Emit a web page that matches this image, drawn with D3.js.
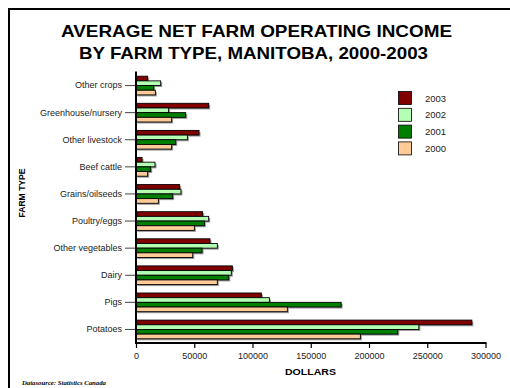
<!DOCTYPE html>
<html><head><meta charset="utf-8">
<script src="https://cdn.jsdelivr.net/npm/d3@7"></script>
<style>body{margin:0;background:#fff}svg{display:block}</style>
</head><body>
<svg id="c" width="510" height="388"></svg>
<script>
const categories = ["Other crops","Greenhouse/nursery","Other livestock","Beef cattle","Grains/oilseeds","Poultry/eggs","Other vegetables","Dairy","Pigs","Potatoes"];
const series = ["2003","2002","2001","2000"];
const v2003 = [10000,62400,54100,5200,37500,57200,63500,82700,107600,288300];
const v2002 = [21200,28000,44100,16300,38600,62400,69800,81800,114500,242800];
const v2001 = [15200,42700,34100,12600,31500,58700,56700,79600,176100,224700];
const v2000 = [16600,30600,30600,10000,19200,50100,48700,69800,129900,192600];
const colors = ["#800000","#b3ffb3","#008000","#ffcc99"];
const xTicks = [0,50000,100000,150000,200000,250000,300000];
const values = [v2003,v2002,v2001,v2000];

const svg = d3.select("#c");
// frame
svg.append("path").attr("d","M9,388 V9 H510").attr("fill","none").attr("stroke","#000").attr("stroke-width",2);

const tf = {family:"Liberation Sans, Arial, sans-serif"};
svg.append("text").attr("x",256.5).attr("y",37).attr("text-anchor","middle").attr("font-family",tf.family)
  .attr("font-weight","bold").attr("font-size",16.5).attr("textLength",391).attr("lengthAdjust","spacingAndGlyphs")
  .text("AVERAGE NET FARM OPERATING INCOME");
svg.append("text").attr("x",253.5).attr("y",59).attr("text-anchor","middle").attr("font-family",tf.family)
  .attr("font-weight","bold").attr("font-size",16.5).attr("textLength",349).attr("lengthAdjust","spacingAndGlyphs")
  .text("BY FARM TYPE, MANITOBA, 2000-2003");

const x = d3.scaleLinear().domain([0,300000]).range([136,485.5]);
const y = d3.scaleBand().domain(categories).range([72,343]).paddingInner(0.31).paddingOuter(0.155);
const yi = d3.scaleBand().domain(series).range([0,y.bandwidth()]);

const g = svg.append("g");
series.forEach((s,si)=>{
  const rows = categories.map((c,i)=>({c,v:values[si][i]}));
  g.selectAll(null).data(rows).enter().append("rect")
    .attr("x",x(0)+1.5).attr("y",d=>y(d.c)+yi(s)+1.5)
    .attr("width",d=>x(d.v)-x(0)).attr("height",yi.bandwidth())
    .attr("fill","#999");
});
series.forEach((s,si)=>{
  const rows = categories.map((c,i)=>({c,v:values[si][i]}));
  g.selectAll(null).data(rows).enter().append("rect")
    .attr("x",x(0)).attr("y",d=>y(d.c)+yi(s))
    .attr("width",d=>x(d.v)-x(0)).attr("height",yi.bandwidth())
    .attr("fill",colors[si]).attr("stroke","#000").attr("stroke-width",0.9);
});

// y axis
const ya = svg.append("g").attr("transform","translate(136,0)")
  .call(d3.axisLeft(y).tickSize(11).tickPadding(3));
ya.select(".domain").remove();
ya.selectAll(".tick line").attr("stroke","#444");
ya.selectAll("text").attr("font-family",tf.family).attr("font-size",9).attr("fill","#222");
svg.append("line").attr("x1",136).attr("x2",136).attr("y1",71.5).attr("y2",344).attr("stroke","#000").attr("stroke-width",2);

// x axis
const xa = svg.append("g").attr("transform","translate(0,343)")
  .call(d3.axisBottom(x).tickValues(xTicks).tickFormat(d3.format("d")).tickSize(5).tickPadding(5));
xa.select(".domain").remove();
xa.selectAll(".tick line").attr("stroke","#000").attr("stroke-width",1.2);
xa.selectAll("text").attr("font-family",tf.family).attr("font-size",9).attr("fill","#222");
svg.append("line").attr("x1",135).attr("x2",486.5).attr("y1",343).attr("y2",343).attr("stroke","#000").attr("stroke-width",2);

svg.append("text").attr("x",310.5).attr("y",375).attr("text-anchor","middle")
  .attr("font-family",tf.family).attr("font-weight","bold").attr("font-size",9.5)
  .attr("textLength",51).attr("lengthAdjust","spacingAndGlyphs").text("DOLLARS");
svg.append("text").attr("transform","translate(25,193) rotate(-90)").attr("text-anchor","middle")
  .attr("font-family",tf.family).attr("font-weight","bold").attr("font-size",9)
  .attr("textLength",49).attr("lengthAdjust","spacingAndGlyphs").text("FARM TYPE");
svg.append("text").attr("x",22).attr("y",385).attr("font-family","Liberation Serif, Times New Roman, serif")
  .attr("font-style","italic").attr("font-weight","bold").attr("font-size",6.5)
  .attr("textLength",84).attr("lengthAdjust","spacingAndGlyphs").text("Datasource: Statistics Canada");

// legend
const lg = svg.append("g");
series.forEach((s,i)=>{
  lg.append("rect").attr("x",398.5).attr("y",91.5+i*16.8).attr("width",13).attr("height",13)
    .attr("fill",colors[i]).attr("stroke","#000").attr("stroke-width",0.8);
  lg.append("text").attr("x",425).attr("y",101.5+i*16.8).attr("font-family",tf.family)
    .attr("font-size",9.5).attr("fill","#222").text(s);
});
</script>
</body></html>
